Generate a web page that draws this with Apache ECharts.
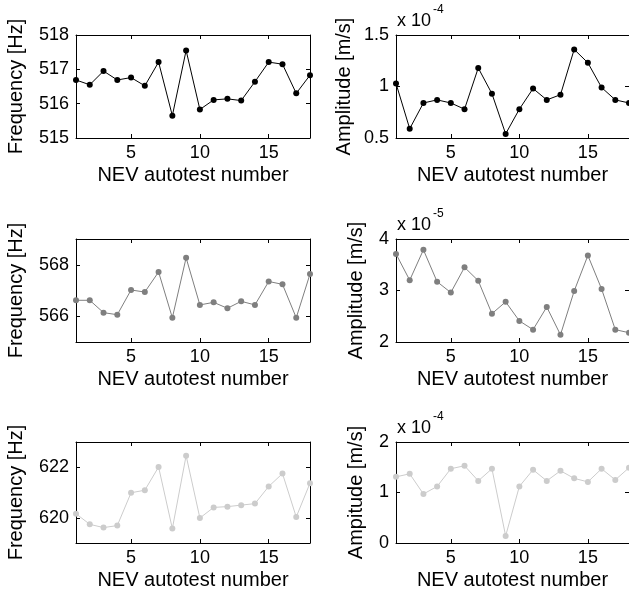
<!DOCTYPE html>
<html lang="en">

<head>
    <meta charset="UTF-8">
    <style>
    html,
    body {
        height: 100%;
        margin: 0;
        background: #fff;
    }
  </style>
</head>

<body>
<div id="chart" style="width:629px;height:591px;"></div>
<script src="https://cdn.jsdelivr.net/npm/echarts@6.0.0/dist/echarts.min.js"></script>
<script>
    // autotest index (x)
    var tests = [1, 2, 3, 4, 5, 6, 7, 8, 9, 10, 11, 12, 13, 14, 15, 16, 17, 18];
    var xTicks = [5, 10, 15];

    // mode 1
    var freq1 = [516.69, 516.55, 516.95, 516.69, 516.76, 516.52, 517.21, 515.65, 517.55,
                 515.83, 516.11, 516.14, 516.09, 516.64, 517.21, 517.15, 516.30, 516.83];
    var amp1 = [1.03, 0.59, 0.84, 0.87, 0.84, 0.78, 1.18, 0.93, 0.54,
                0.78, 0.98, 0.87, 0.92, 1.36, 1.23, 0.99, 0.87, 0.84];   // x 1e-4

    // mode 2
    var freq2 = [566.62, 566.62, 566.14, 566.06, 567.02, 566.94, 567.72, 565.94, 568.27,
                 566.44, 566.54, 566.31, 566.58, 566.44, 567.35, 567.24, 565.94, 567.64];
    var amp2 = [3.71, 3.20, 3.79, 3.17, 2.96, 3.45, 3.19, 2.55, 2.78,
                2.41, 2.24, 2.68, 2.14, 2.99, 3.68, 3.03, 2.24, 2.18];   // x 1e-5

    // mode 3
    var freq3 = [620.16, 619.74, 619.61, 619.69, 620.99, 621.09, 622.01, 619.57, 622.46,
                 619.99, 620.41, 620.44, 620.50, 620.56, 621.24, 621.75, 620.03, 621.37];
    var amp3 = [1.31, 1.37, 0.97, 1.12, 1.47, 1.53, 1.23, 1.47, 0.14,
                1.12, 1.45, 1.23, 1.43, 1.28, 1.21, 1.47, 1.25, 1.49];   // x 1e-4

    var panels = [
        {y: freq1, min: 515, max: 518, ticks: [515, 516, 517, 518], name: 'Frequency [Hz]', gap: 50, color: '#000000'},
        {y: amp1, min: 0.5, max: 1.5, ticks: [0.5, 1, 1.5], name: 'Amplitude [m/s]', gap: 42, color: '#000000', exp: '-4'},
        {y: freq2, min: 565, max: 569, ticks: [566, 568], name: 'Frequency [Hz]', gap: 50, color: '#7f7f7f'},
        {y: amp2, min: 2, max: 4, ticks: [2, 3, 4], name: 'Amplitude [m/s]', gap: 30, color: '#7f7f7f', exp: '-5'},
        {y: freq3, min: 619, max: 623, ticks: [620, 622], name: 'Frequency [Hz]', gap: 50, color: '#cccccc'},
        {y: amp3, min: 0, max: 2, ticks: [0, 1, 2], name: 'Ampitude [m/s]', gap: 30, color: '#cccccc', exp: '-4'}
    ];

    var font = 'Liberation Sans, Arial, Helvetica, sans-serif';
    var rowTop = [35, 239, 442];
    var grids = [], xAxes = [], yAxes = [], series = [], texts = [];

    panels.forEach(function (p, i) {
        var row = Math.floor(i / 2), col = i % 2;
        var left = col === 0 ? 76 : 396;
        grids.push({left: left, top: rowTop[row], width: col === 0 ? 234 : 235, height: 103});

        var line = {show: true, onZero: false, lineStyle: {color: '#000', width: 1}};
        var tick = {show: true, inside: true, length: 4, lineStyle: {color: '#000'}};

        xAxes.push({
            gridIndex: i, type: 'value', min: 1, max: 18, position: 'bottom',
            name: 'NEV autotest number', nameLocation: 'middle', nameGap: 27,
            nameTextStyle: {fontFamily: font, fontSize: 20, color: '#000'},
            axisLine: line,
            axisTick: Object.assign({customValues: xTicks}, tick),
            axisLabel: {customValues: xTicks, margin: 6, fontFamily: font, fontSize: 18, color: '#000'},
            splitLine: {show: false}
        });
        xAxes.push({
            gridIndex: i, type: 'value', min: 1, max: 18, position: 'top',
            axisLine: line,
            axisTick: Object.assign({customValues: xTicks}, tick),
            axisLabel: {show: false},
            splitLine: {show: false}
        });
        yAxes.push({
            gridIndex: i, type: 'value', min: p.min, max: p.max, position: 'left',
            name: p.name, nameLocation: 'middle', nameGap: p.gap,
            nameTextStyle: {fontFamily: font, fontSize: 20, color: '#000'},
            axisLine: line,
            axisTick: Object.assign({customValues: p.ticks}, tick),
            axisLabel: {customValues: p.ticks, margin: 7, fontFamily: font, fontSize: 18, color: '#000'},
            splitLine: {show: false}
        });
        yAxes.push({
            gridIndex: i, type: 'value', min: p.min, max: p.max, position: 'right',
            axisLine: line,
            axisTick: Object.assign({customValues: p.ticks}, tick),
            axisLabel: {show: false},
            splitLine: {show: false}
        });

        series.push({
            type: 'line',
            xAxisIndex: i * 2, yAxisIndex: i * 2,
            data: tests.map(function (t, k) { return [t, p.y[k]]; }),
            symbol: 'circle', symbolSize: 6,
            clip: false,
            itemStyle: {color: p.color},
            lineStyle: {color: p.color, width: 1},
            animation: false
        });

        if (p.exp) {
            texts.push({
                type: 'text', left: 397, top: rowTop[row] - 23,
                style: {text: 'x 10', font: '18px ' + font, fill: '#000'}
            });
            texts.push({
                type: 'text', left: 433, top: rowTop[row] - 31,
                style: {text: p.exp, font: '12px ' + font, fill: '#000'}
            });
        }
    });

    var myChart = echarts.init(document.getElementById('chart'));
    myChart.setOption({
        animation: false,
        grid: grids,
        xAxis: xAxes,
        yAxis: yAxes,
        series: series,
        graphic: texts
    });
</script>
</body>
</html>
